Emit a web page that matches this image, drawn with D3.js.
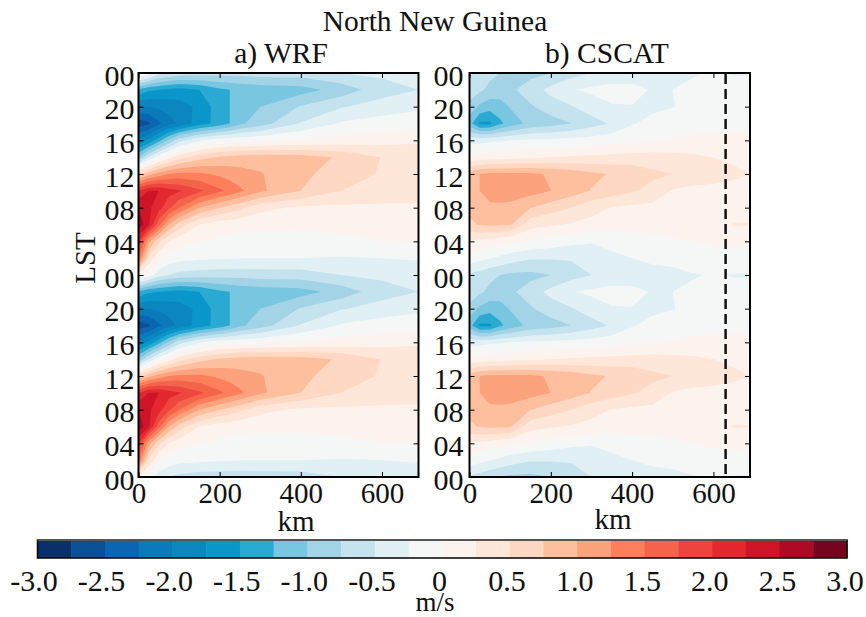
<!DOCTYPE html>
<html>
<head>
<meta charset="utf-8">
<script src="https://cdnjs.cloudflare.com/ajax/libs/d3/7.8.5/d3.min.js"></script>
<style>
  html, body { margin: 0; padding: 0; background: #fff; }
  svg { display: block; }
  text { font-family: "Liberation Serif", serif; fill: #111; }
  .tick line { stroke: #000; stroke-width: 1; }
</style>
</head>
<body>
<div id="chart"></div>
<script>
// one diurnal cycle, the figure shows it twice (rows: LST 00,02,...,22,24)
const levels = d3.range(-3, 3.01, 0.25);
const colors = ["#0a2f6b", "#0b4f96", "#0a66b2", "#0a7abb", "#0b86bf", "#0a96c8", "#2aaad2", "#78c6e0",
    "#a2d3e6", "#c5e2ef", "#e1f0f4", "#f5f7f7", "#fdf3ee", "#fee6d9", "#fed8c3", "#febf9f",
    "#fca37d", "#fd7f5c", "#f4644a", "#ee4540", "#e4282f", "#cf1428", "#ad0a25", "#740420"];

const wrfKm = [0, 25, 50, 75, 100, 150, 200, 225, 250, 300, 400, 500, 600, 690];
const wrfDay = [
    [0.2, -0.1, -0.4, -0.5, -0.58, -0.63, -0.65, -0.65, -0.65, -0.63, -0.62, -0.5, -0.45, -0.42],
    [1.5, 0.45, 0.05, -0.1, -0.17, -0.2, -0.22, -0.23, -0.25, -0.25, -0.25, -0.27, -0.25, -0.22],
    [2.0, 1.1, 0.55, 0.25, 0.1, 0.02, -0.05, -0.07, -0.08, -0.08, -0.05, -0.02, 0, 0.02],
    [2.7, 2.3, 1.6, 1.0, 0.65, 0.25, 0.12, 0.1, 0.08, 0.05, 0.03, 0.03, 0.05, 0.08],
    [2.5, 2.3, 2.1, 1.8, 1.5, 1.0, 0.75, 0.65, 0.55, 0.33, 0.2, 0.2, 0.2, 0.2],
    [2.0, 2.25, 2.25, 2.1, 2.03, 1.8, 1.55, 1.42, 1.3, 1.05, 0.75, 0.5, 0.4, 0.37],
    [0.6, 0.9, 1.1, 1.25, 1.3, 1.3, 1.2, 1.15, 1.1, 1.02, 0.8, 0.65, 0.47, 0.4],
    [-1.0, -0.5, -0.1, 0.15, 0.4, 0.65, 0.78, 0.82, 0.85, 0.88, 0.85, 0.72, 0.49, 0.45],
    [-1.95, -1.7, -1.35, -0.95, -0.6, -0.28, -0.12, -0.1, -0.08, -0.04, 0.03, 0.1, 0.15, 0.2],
    [-2.65, -2.55, -2.3, -2.1, -1.95, -1.62, -1.4, -1.25, -1.05, -0.87, -0.48, -0.22, -0.12, -0.1],
    [-2.0, -2.0, -1.95, -1.9, -1.85, -1.7, -1.35, -1.25, -1.1, -1.0, -0.73, -0.52, -0.4, -0.3],
    [-1.3, -1.45, -1.5, -1.55, -1.6, -1.5, -1.3, -1.25, -1.2, -1.15, -1.1, -0.9, -0.6, -0.5],
    [0.2, -0.1, -0.4, -0.5, -0.58, -0.63, -0.65, -0.65, -0.65, -0.63, -0.62, -0.5, -0.45, -0.42]
];

const cscatKm = [0, 25, 50, 75, 100, 150, 200, 250, 300, 350, 400, 450, 500, 550, 600, 650, 690];
const cscatDay = [
    [-0.55, -0.6, -0.68, -0.75, -0.8, -0.82, -0.75, -0.6, -0.5, -0.43, -0.4, -0.38, -0.37, -0.27, -0.23, -0.27, -0.27],
    [-0.1, -0.17, -0.24, -0.3, -0.38, -0.47, -0.48, -0.48, -0.38, -0.3, -0.25, -0.17, -0.12, -0.08, -0.05, -0.04, -0.04],
    [0.22, 0.2, 0.15, 0.1, 0.05, -0.03, -0.1, -0.18, -0.23, -0.18, -0.1, -0.05, -0.02, 0, 0.02, 0.03, 0.03],
    [0.7, 0.77, 0.8, 0.78, 0.78, 0.35, 0.28, 0.23, 0.18, 0.12, 0.1, 0.08, 0.07, 0.07, 0.12, 0.27, 0.26],
    [0.82, 0.92, 0.95, 0.95, 0.93, 0.76, 0.62, 0.5, 0.33, 0.24, 0.2, 0.18, 0.15, 0.13, 0.12, 0.12, 0.12],
    [0.85, 1.0, 1.1, 1.12, 1.13, 1.1, 1.0, 0.88, 0.74, 0.62, 0.53, 0.42, 0.23, 0.17, 0.14, 0.12, 0.12],
    [0.85, 1.0, 1.05, 1.05, 1.05, 1.05, 0.97, 0.9, 0.8, 0.73, 0.68, 0.55, 0.5, 0.44, 0.4, 0.32, 0.25],
    [0.08, 0.1, 0.12, 0.14, 0.16, 0.2, 0.25, 0.28, 0.3, 0.32, 0.34, 0.36, 0.33, 0.3, 0.25, 0.18, 0.15],
    [-0.35, -0.33, -0.3, -0.28, -0.25, -0.22, -0.2, -0.17, -0.15, -0.1, -0.05, -0.01, 0.02, 0.03, 0.05, 0.06, 0.06],
    [-1.15, -1.55, -1.55, -1.3, -1.15, -0.92, -0.85, -0.75, -0.6, -0.47, -0.27, -0.18, -0.1, -0.05, -0.05, -0.05, -0.05],
    [-0.85, -1.05, -1.15, -1.12, -0.98, -0.78, -0.63, -0.52, -0.38, -0.27, -0.26, -0.3, -0.26, -0.18, -0.1, -0.07, -0.06],
    [-0.55, -0.7, -0.82, -0.85, -0.8, -0.63, -0.42, -0.27, -0.2, -0.15, -0.17, -0.27, -0.25, -0.2, -0.17, -0.15, -0.15],
    [-0.55, -0.6, -0.68, -0.75, -0.8, -0.82, -0.75, -0.6, -0.5, -0.43, -0.4, -0.38, -0.37, -0.27, -0.23, -0.27, -0.27]
];

const yTickHours = d3.range(0, 49, 4);
const yTickLabels = ["00", "04", "08", "12", "16", "20", "00", "04", "08", "12", "16", "20", "00"];
const xTicks = [0, 200, 400, 600];
const barLabels = ["-3.0", "-2.5", "-2.0", "-1.5", "-1.0", "-0.5", "0", "0.5", "1.0", "1.5", "2.0", "2.5", "3.0"];
const barLabelValues = d3.range(-3, 3.01, 0.5);
const coastMarkKm = 630;

const width = 866, height = 617;
const svg = d3.select("#chart").append("svg").attr("width", width).attr("height", height);

function drawPanel(id, left, right, km, day, labelPad) {
    const top = 73, bottom = 477;
    const xScale = d3.scaleLinear().domain([0, 690]).range([left, right]);
    const yScale = d3.scaleLinear().domain([0, 48]).range([bottom, top]);

    // two cycles stacked, the 24h row is shared
    const rows = day.concat(day.slice(1));
    const values = rows.flat();
    const nx = km.length, ny = rows.length;

    // d3.contours puts grid value i at coordinate i+0.5
    const colToKm = d3.scaleLinear().domain(km.map((d, i) => i + 0.5)).range(km);
    const rowToHour = d3.scaleLinear().domain(rows.map((d, i) => i + 0.5)).range(rows.map((d, i) => i * 2));
    const path = d3.geoPath(d3.geoTransform({
        point: function(x, y) {
            this.stream.point(xScale(colToKm(x)), yScale(rowToHour(y)));
        }
    }));

    const g = svg.append("g");
    svg.append("clipPath").attr("id", id).append("rect")
        .attr("x", left).attr("y", top)
        .attr("width", right - left).attr("height", bottom - top);

    // the source figure is a soft scan, so the bands get a touch of blur
    const plot = g.append("g").attr("clip-path", "url(#" + id + ")")
        .append("g").style("filter", "blur(0.6px)");
    plot.append("rect")
        .attr("x", left - 5).attr("y", top - 5)
        .attr("width", right - left + 10).attr("height", bottom - top + 10)
        .attr("fill", colors[0]);

    const contours = d3.contours().size([nx, ny]).thresholds(levels.slice(1, -1))(values);
    plot.selectAll("path.band").data(contours).enter()
        .append("path")
        .classed("band", true)
        .attr("d", path)
        .attr("fill", (d, i) => colors[i + 1]);

    // ticks point inward on all four sides
    const bottomAxis = d3.axisBottom(xScale).tickValues(xTicks).tickSizeInner(-5).tickSizeOuter(0).tickPadding(5);
    const topAxis = d3.axisTop(xScale).tickValues(xTicks).tickSizeInner(-5).tickSizeOuter(0).tickFormat("");
    const leftAxis = d3.axisLeft(yScale).tickValues(yTickHours).tickSizeInner(-5).tickSizeOuter(0)
        .tickPadding(labelPad).tickFormat((d, i) => yTickLabels[i]);
    const rightAxis = d3.axisRight(yScale).tickValues(yTickHours).tickSizeInner(-5).tickSizeOuter(0).tickFormat("");

    const xg = g.append("g").attr("transform", "translate(0," + bottom + ")").call(bottomAxis);
    g.append("g").attr("transform", "translate(0," + top + ")").call(topAxis);
    const yg = g.append("g").attr("transform", "translate(" + left + ",0)").call(leftAxis);
    g.append("g").attr("transform", "translate(" + right + ",0)").call(rightAxis);
    g.selectAll(".domain").remove();
    xg.selectAll("text").attr("font-size", 29).attr("font-family", "Liberation Serif").attr("dy", "0.72em").attr("fill", "#111");
    yg.selectAll("text").attr("font-size", 30).attr("font-family", "Liberation Serif").attr("dy", "0.4em").attr("fill", "#111");

    g.append("rect")
        .attr("x", left).attr("y", top)
        .attr("width", right - left).attr("height", bottom - top)
        .attr("fill", "none").attr("stroke", "#000").attr("stroke-width", 2);

    return xScale;
}

const xA = drawPanel("clipA", 138.5, 418.5, wrfKm, wrfDay, 4);
const xB = drawPanel("clipB", 469.5, 750, cscatKm, cscatDay, 6);

svg.append("line")
    .attr("x1", xB(coastMarkKm)).attr("x2", xB(coastMarkKm))
    .attr("y1", 74).attr("y2", 476)
    .attr("stroke", "#111").attr("stroke-width", 2.5)
    .attr("stroke-dasharray", "10,5");

function label(x, y, s, size) {
    return svg.append("text")
        .attr("x", x).attr("y", y)
        .attr("text-anchor", "middle")
        .attr("font-size", size)
        .text(s);
}

label(435, 31, "North New Guinea", 29.5);
label(281, 63, "a) WRF", 29.5);
label(607, 63, "b) CSCAT", 29.5);
label(296, 531, "km", 29);
label(613, 529, "km", 29);
label(0, 0, "LST", 29).attr("transform", "translate(95,258) rotate(-90)");

// colorbar
const barY = 540, barH = 18;
const barScale = d3.scaleLinear().domain([-3, 3]).range([37.5, 847]);
const cells = d3.pairs(levels);
svg.selectAll("rect.cell").data(cells).enter()
    .append("rect")
    .classed("cell", true)
    .attr("x", d => barScale(d[0]))
    .attr("y", barY)
    .attr("width", d => barScale(d[1]) - barScale(d[0]) + 0.5)
    .attr("height", barH)
    .attr("fill", (d, i) => colors[i]);
svg.append("rect")
    .attr("x", barScale(-3)).attr("y", barY)
    .attr("width", barScale(3) - barScale(-3)).attr("height", barH)
    .attr("fill", "none").attr("stroke", "#000").attr("stroke-width", 1.5);
svg.append("line")
    .attr("x1", barScale(-3)).attr("x2", barScale(3))
    .attr("y1", barY).attr("y2", barY)
    .attr("stroke", "#555").attr("stroke-width", 2);

// the bar's labels are spread slightly wider than the bar itself
const barLabelScale = d3.scaleLinear().domain([-3, 3]).range([34, 845]);
barLabelValues.forEach((v, i) => {
    label(barLabelScale(v), 591, barLabels[i], 30);
});
label(435, 611, "m/s", 27);
</script>
</body>
</html>
